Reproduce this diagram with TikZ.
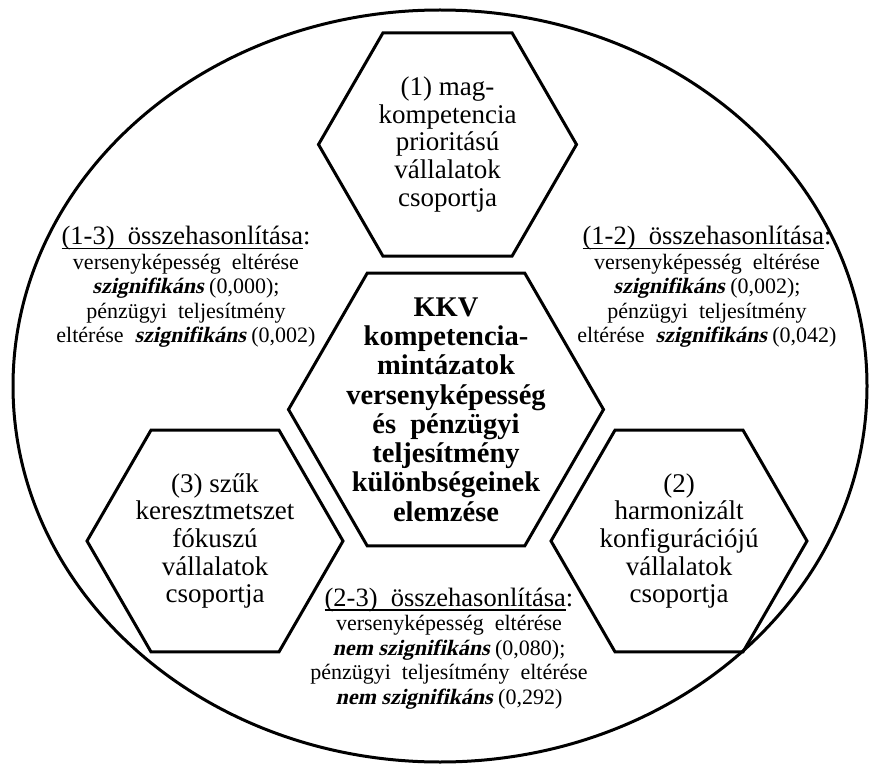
\documentclass[tikz,border=0pt]{standalone}
\usepackage{fontspec}
\setmainfont{Liberation Serif}
% slanted bold face for the significance verdicts
\newfontfamily\verdictfont{Liberation Serif}[FakeSlant=0.22]
\usetikzlibrary{shapes.geometric}

% hexagon outline of a given circumscribed diameter
\tikzset{
  hexa/.style={regular polygon, regular polygon sides=6, draw, line width=3pt,
    minimum size=#1, inner sep=0pt, outer sep=0pt},
  grouptext/.style={align=center, inner sep=0pt,
    font=\fontsize{27}{27.7}\selectfont},
  hubtext/.style={align=center, inner sep=0pt,
    font=\fontsize{28.5}{29.3}\selectfont\bfseries},
  cmptext/.style={align=center, inner sep=0pt,
    font=\fontsize{22}{24.5}\selectfont},
}
\newcommand\bsz[1]{{\verdictfont\bfseries #1}}
\newcommand\cmphead[1]{{\fontsize{26.5}{24.5}\selectfont
  \setbox0\hbox{#1}\rlap{\rule[-4.5pt]{\wd0}{1.4pt}}\box0:}}

\begin{document}
\begin{tikzpicture}[x=1pt,y=-1pt]
  \useasboundingbox (0,0) rectangle (870,767);

  % outer frame
  \node[draw, ellipse, line width=3pt, minimum width=854pt, minimum height=752pt,
        inner sep=0pt] (frame) at (440,386) {};

  % hexagons
  \node[hexa=258pt] (hexone)   at (447.5,144.5) {};
  \node[hexa=256pt] (hexthree) at (215,541) {};
  \node[hexa=256pt] (hextwo)   at (679,541) {};
  \node[hexa=315pt] (hexhub)   at (446,409.5) {};

  % group labels
  \node[grouptext] (lblone) at (hexone.center)
    {(1) mag-\\kompetencia\\prioritású\\vállalatok\\csoportja};
  \node[grouptext] (lblthree) at (hexthree.center)
    {(3) szűk\\keresztmetszet\\fókuszú\\vállalatok\\csoportja};
  \node[grouptext] (lbltwo) at (hextwo.center)
    {(2)\\harmonizált\\konfigurációjú\\vállalatok\\csoportja};
  \node[hubtext] (lblhub) at (hexhub.center)
    {KKV\\kompetencia-\\mintázatok\\versenyképesség\\és\ \ pénzügyi\\teljesítmény\\különbségeinek\\elemzése};

  % pairwise comparisons
  \node[cmptext] (cmponethree) at (186,287)
    {\cmphead{(1-3)\ \ összehasonlítása}\\
     versenyképesség\ \ eltérése\\
     \bsz{szignifikáns} (0,000);\\
     pénzügyi\ \ teljesítmény\\
     eltérése\ \ \bsz{szignifikáns} (0,002)};
  \node[cmptext] (cmponetwo) at (707,287)
    {\cmphead{(1-2)\ \ összehasonlítása}\\
     versenyképesség\ \ eltérése\\
     \bsz{szignifikáns} (0,002);\\
     pénzügyi\ \ teljesítmény\\
     eltérése\ \ \bsz{szignifikáns} (0,042)};
  \node[cmptext] (cmptwothree) at (449,648.5)
    {\cmphead{(2-3)\ \ összehasonlítása}\\
     versenyképesség\ \ eltérése\\
     \bsz{nem szignifikáns} (0,080);\\
     pénzügyi\ \ teljesítmény\ \ eltérése\\
     \bsz{nem szignifikáns} (0,292)};
\end{tikzpicture}
\end{document}
